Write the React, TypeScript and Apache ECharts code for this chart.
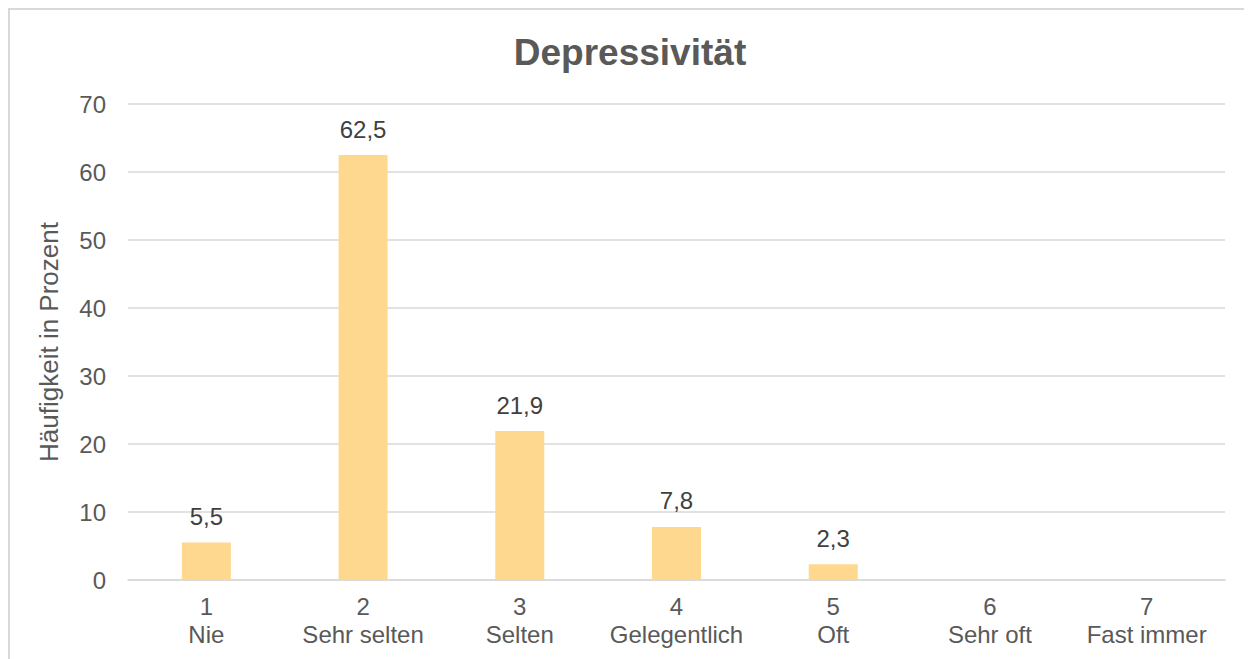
import React, { useEffect, useRef } from "react";
import * as echarts from "echarts";

const categoryNumbers = ["1", "2", "3", "4", "5", "6", "7"];
const categoryNames = ["Nie", "Sehr selten", "Selten", "Gelegentlich", "Oft", "Sehr oft", "Fast immer"];
const values: (number | null)[] = [5.5, 62.5, 21.9, 7.8, 2.3, null, null];
const yTicks = { min: 0, max: 70, interval: 10 };

export default function App() {
  const ref = useRef<HTMLDivElement>(null);
  useEffect(() => {
    if (!ref.current) return;
    const chart = echarts.init(ref.current, undefined, { renderer: "svg" });
    const font = "Arial, 'Liberation Sans', sans-serif";
    chart.setOption({
      animation: false,
      backgroundColor: "#ffffff",
      textStyle: { fontFamily: font },
      title: {
        text: "Depressivität",
        left: "center",
        top: 21,
        textStyle: { fontSize: 37, fontWeight: "bold", color: "#595959", fontFamily: font },
      },
      graphic: [
        { type: "line", shape: { x1: 0, y1: 1, x2: 1244, y2: 1 }, style: { stroke: "#d9d9d9", lineWidth: 2 } },
        { type: "line", shape: { x1: 1, y1: 0, x2: 1, y2: 651 }, style: { stroke: "#d9d9d9", lineWidth: 2 } },
      ],
      grid: { left: 120, right: 27, top: 96, bottom: 79, containLabel: false },
      xAxis: {
        type: "category",
        data: categoryNumbers.map((n, i) => `${n}\n${categoryNames[i]}`),
        axisLine: { lineStyle: { color: "#d9d9d9", width: 1.5 } },
        axisTick: { show: false },
        axisLabel: { color: "#595959", fontSize: 24, lineHeight: 28, margin: 12, interval: 0, fontFamily: font },
      },
      yAxis: {
        type: "value",
        min: yTicks.min,
        max: yTicks.max,
        interval: yTicks.interval,
        name: "Häufigkeit in Prozent",
        nameLocation: "middle",
        nameGap: 66,
        nameRotate: 90,
        nameTextStyle: { color: "#595959", fontSize: 26, fontFamily: font },
        axisLine: { show: false },
        axisTick: { show: false },
        axisLabel: { color: "#595959", fontSize: 24, margin: 22, fontFamily: font },
        splitLine: { lineStyle: { color: "#d9d9d9", width: 1.5 } },
      },
      series: [
        {
          type: "bar",
          data: values,
          barWidth: 49,
          itemStyle: { color: "#FFD88F" },
          label: {
            show: true,
            position: "top",
            distance: 14,
            color: "#404040",
            fontSize: 24,
            fontFamily: font,
            formatter: (p: any) => (p.value == null ? "" : String(p.value).replace(".", ",")),
          },
        },
      ],
    });
    return () => chart.dispose();
  }, []);
  return <div ref={ref} style={{ width: 1244, height: 651 }} />;
}
